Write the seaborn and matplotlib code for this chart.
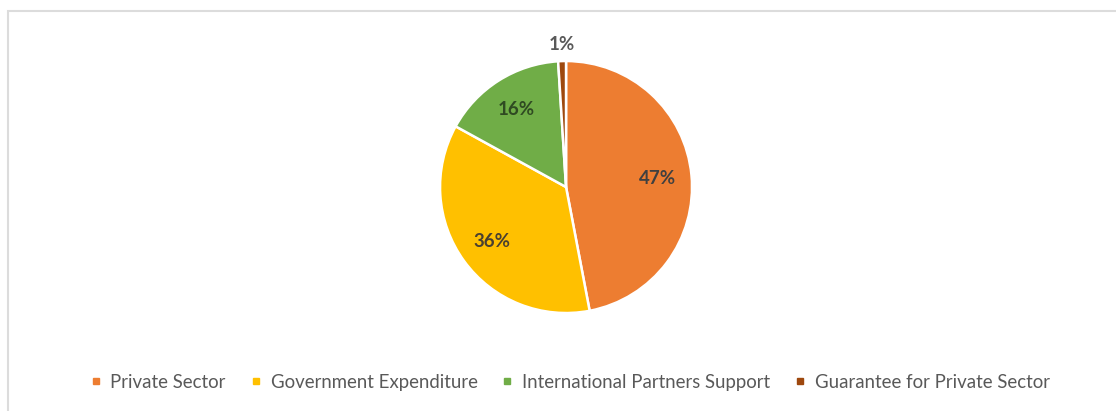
import matplotlib
matplotlib.use("Agg")
import matplotlib.pyplot as plt
from matplotlib.patches import Rectangle
from matplotlib.lines import Line2D
import numpy as np
import seaborn as sns

categories = ["Private Sector", "Government Expenditure",
              "International Partners Support", "Guarantee for Private Sector"]
shares = [47, 36, 16, 1]
label_colors = ["#404040", "#4a4030", "#2f4a22", "#595959"]

sns.set_theme(style="white")
plt.rcParams["font.family"] = ["Lato", "DejaVu Sans"]
palette = sns.color_palette(["#ED7D31", "#FFC000", "#70AD47", "#9E480E"])

fig = plt.figure(figsize=(11.16, 4.11), dpi=100)
fig.patch.set_facecolor("white")

# light chart-area frame
fig.add_artist(Rectangle((8 / 1116, -0.1), 1.2, (411 - 11) / 411 + 0.1,
                         transform=fig.transFigure, fill=False,
                         edgecolor="#dcdcdc", linewidth=1.5))

ax = fig.add_axes([0.3943, 0.2384, 0.2258, 0.6131])
wedges, texts = ax.pie(shares, colors=palette, startangle=90, counterclock=False,
                       radius=1.0,
                       wedgeprops=dict(edgecolor="white", linewidth=1.8))
ax.set_xlim(-1, 1)
ax.set_ylim(-1, 1)
ax.set_aspect("equal")
ax.axis("off")

# percentage labels: inside for large slices, outside for the thin one
total = sum(shares)
start = 90.0
dists = [0.73, 0.73, 0.73, 1.13]
for val, d, col in zip(shares, dists, label_colors):
    sweep = val / total * 360
    mid = np.deg2rad(start - sweep / 2)
    start -= sweep
    ax.text(d * np.cos(mid), d * np.sin(mid), f"{val}%", ha="center", va="center",
            fontsize=13.5, fontweight="bold", color=col, clip_on=False)

handles = [Line2D([], [], marker="s", linestyle="none", markersize=5,
                  markerfacecolor=c, markeredgecolor=c) for c in palette]
fig.legend(handles, categories, loc="center", bbox_to_anchor=(570 / 1116, 1 - 382 / 411),
           ncol=4, frameon=False, fontsize=13.4, labelcolor="#595959",
           handletextpad=0.5, columnspacing=1.3, handlelength=0.6)

fig.savefig("out.png", dpi=100, facecolor="white")
